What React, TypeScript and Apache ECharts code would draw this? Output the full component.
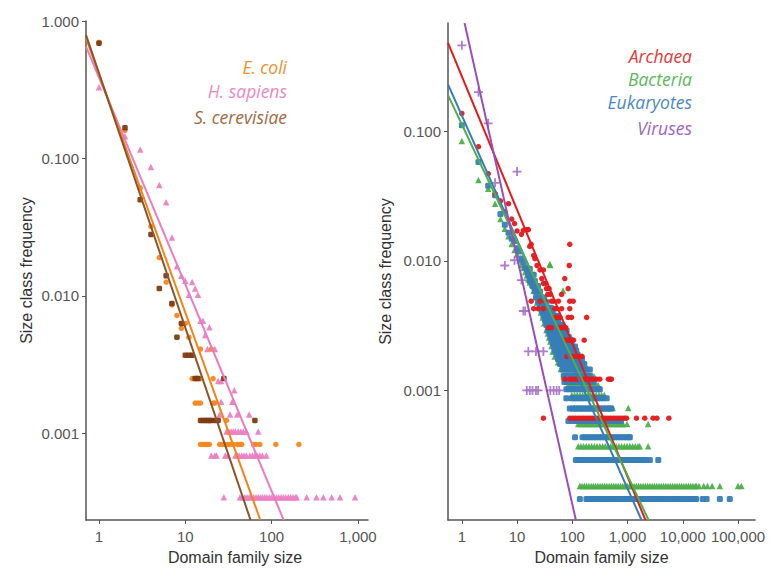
import React, { useEffect, useRef } from "react";
import * as echarts from "echarts";

// ---------- Tick labels ----------
const leftXTicks = [1, 10, 100, 1000];
const leftYTicks = [0.001, 0.01, 0.1, 1];
const rightXTicks = [1, 10, 100, 1000, 10000, 100000];
const rightYTicks = [0.001, 0.01, 0.1];

// ---------- Left panel: species ----------
const ecoliPoints: number[][] = [
  [1, 0.7], [2, 0.16], [3, 0.061], [4, 0.032], [5, 0.019], [6, 0.0126], [7, 0.0086], [8, 0.0072],
  [9, 0.0058], [10, 0.0063], [11, 0.005], [15, 0.0041], [20, 0.0041], [12, 0.0025], [13, 0.0025],
  [14, 0.0025], [15, 0.0025], [21, 0.0025], [13, 0.00166], [14, 0.00166], [15, 0.00166], [21, 0.00166],
  [22, 0.00166], [30, 0.00124],
];
const ecoliSingletons = [15, 16, 17, 18, 19, 25, 27, 29, 31, 33, 36, 40, 43, 45, 62, 66, 73, 112, 207];
const ecoliSingleFreq = 0.00083;

const scerPoints: number[][] = [
  [1, 0.69], [2, 0.167], [3, 0.05], [4, 0.028], [5, 0.0113], [6, 0.014], [7, 0.0088], [8, 0.005],
  [9, 0.0063], [10, 0.0037], [11, 0.0037], [12, 0.0037], [13, 0.0025], [14, 0.0025], [28, 0.0025],
];
const scerSingletons = [15, 16, 17, 18, 19, 20, 22, 24, 64];
const scerSingleFreq = 0.00124;

const hsapPoints: number[][] = [
  [1, 0.33], [2, 0.145], [3, 0.116], [4, 0.0865], [5, 0.064], [6, 0.048], [7, 0.0266], [8, 0.0164],
  [9, 0.014], [10, 0.0129], [11, 0.0102], [12, 0.0126], [13, 0.0113], [14, 0.0102], [15, 0.0066],
  [16, 0.0066], [17, 0.0052], [19, 0.0059], [18, 0.0041], [22, 0.0041], [24, 0.0024], [26, 0.0024],
  [37, 0.00206], [26, 0.0017], [35, 0.0017], [25, 0.00137], [33, 0.00137], [40, 0.00137], [55, 0.00137],
];
const hsapRows: [number, number[]][] = [
  [0.00103, [30, 32, 34, 36, 38, 41, 44, 47, 51, 70]],
  [0.00069, [20, 22, 23, 29, 31, 38, 40, 42, 45, 48, 51, 56, 60, 64, 68, 73, 78, 87]],
  [0.000343, [28, 43, 46, 49, 52, 55, 58, 62, 66, 70, 74, 78, 83, 88, 94, 100, 107, 114, 121, 129, 137, 146, 156, 166, 177, 188, 195, 255, 331, 397, 497, 620, 926]],
];

const ecoliFit = [[0.708, 0.75], [74, 0.000234]];
const scerFit = [[0.708, 0.79], [57, 0.000234]];
const hsapFit = [[0.708, 0.65], [138, 0.000234]];

// ---------- Right panel: domains of life ----------
const archaeaPoints: number[][] = [
  [1, 0.137], [2, 0.076], [3, 0.047], [4, 0.033], [5, 0.029], [6, 0.024], [7, 0.0276], [8, 0.021],
  [9, 0.0194], [10, 0.017], [12, 0.016], [13, 0.0172], [15, 0.0174], [16, 0.0174], [17, 0.0129],
  [20, 0.011], [21, 0.0104],
];
const archaeaRows: [number, number[]][] = [
  [0.0134, [18, 90]],
  [0.0092, [23, 88]],
  [0.0085, [26, 30]],
  [0.0073, [28, 73]],
  [0.0067, [30, 33]],
  [0.0061, [34, 38, 84]],
  [0.0055, [36, 40, 64]],
  [0.00488, [18, 26, 32, 42, 46, 56, 90, 104]],
  [0.00427, [20, 24, 30, 48, 52, 64, 90]],
  [0.00366, [50, 55, 60, 84, 97, 182]],
  [0.00305, [37, 42, 58, 64, 70, 76]],
  [0.00244, [70, 78, 86, 95, 105, 164]],
  [0.00183, [80, 92, 104, 118, 132, 150]],
  [0.00122, [73, 90, 100, 112, 125, 140, 157, 176, 197, 220, 247, 276, 315, 450, 480, 510]],
  [0.00061, [30, 90, 101, 113, 127, 142, 159, 178, 200, 224, 251, 281, 315, 353, 395, 443, 496, 556, 623, 698, 782, 876, 960, 1450, 2050, 2900, 3400, 5600]],
];

const bacteriaPoints: number[][] = [
  [1, 0.084], [2, 0.042], [3, 0.036], [4, 0.0276], [5, 0.021], [6, 0.0177], [7, 0.0155], [8, 0.0135],
  [9, 0.0121], [10, 0.0112], [11, 0.0101], [12, 0.0093], [13, 0.0088], [14, 0.0082], [15, 0.0077],
  [16, 0.0072], [17, 0.0068], [39, 0.0094], [40, 0.0093],
];
const bacteriaRows: [number, number[]][] = [
  [0.0073, [18, 20]],
  [0.0066, [19, 21, 23]],
  [0.0059, [20, 22, 25, 68]],
  [0.0053, [22, 24, 27]],
  [0.00476, [23, 26, 29, 32]],
  [0.0044, [25, 28, 31, 35]],
  [0.004, [27, 30, 33, 37, 41]],
  [0.00366, [29, 32, 36, 40, 45]],
  [0.0033, [31, 35, 39, 44, 49, 55]],
  [0.00293, [34, 38, 43, 48, 54, 60]],
  [0.00275, [36, 40, 45, 51, 57, 64]],
  [0.00256, [38, 42, 47, 53, 59, 66, 74]],
  [0.00238, [40, 45, 50, 56, 63, 70, 79]],
  [0.0022, [42, 47, 53, 60, 67, 75, 84, 94]],
  [0.002, [44, 48, 54, 61, 68, 76, 85, 95, 106]],
  [0.00183, [48, 55, 62, 69, 77, 86, 96, 108, 121, 135]],
  [0.00165, [55, 62, 70, 78, 87, 97, 109, 122, 136, 152]],
  [0.00146, [62, 70, 79, 88, 98, 110, 123, 137, 153, 171, 190]],
  [0.00128, [70, 79, 88, 99, 111, 124, 139, 155, 174, 195, 218, 250]],
  [0.0011, [85, 95, 106, 119, 133, 149, 167, 187, 209, 234, 262, 293]],
  [0.00092, [98, 110, 123, 138, 154, 173, 193, 216, 242, 271, 304, 340, 380]],
  [0.00073, [110, 124, 139, 155, 174, 195, 218, 244, 273, 306, 343, 384, 430, 482, 540, 1030]],
  [0.00055, [128, 143, 160, 179, 200, 224, 251, 281, 315, 353, 395, 443, 496, 556, 623, 698, 782, 830, 980, 2360]],
  [0.00037, [128, 143, 160, 179, 200, 224, 251, 281, 315, 353, 395, 443, 496, 556, 623, 698, 782, 876, 981, 1099, 1232, 1380, 1546, 1660, 2360]],
  [0.000183, [137, 150, 165, 181, 199, 219, 240, 264, 290, 319, 350, 385, 423, 465, 511, 561, 617, 678, 745, 819, 900, 989, 1087, 1195, 1313, 1443, 1586, 1743, 1916, 2106, 2314, 2543, 2795, 3072, 3376, 3710, 4077, 4481, 4925, 5412, 5948, 6537, 7184, 7895, 8677, 9536, 10480, 11517, 12657, 13910, 15287, 16800, 17700, 19600, 24000, 28000, 34000, 47000, 100000, 115000]],
];

const eukaryotesPoints: number[][] = [
  [1, 0.111], [2, 0.058], [3, 0.038], [4, 0.032], [5, 0.023], [6, 0.019], [7, 0.0165], [8, 0.0148],
  [9, 0.0142], [10, 0.0125], [11, 0.0118], [12, 0.0104], [13, 0.0098], [14, 0.0089], [15, 0.0086],
  [16, 0.0079], [17, 0.0074], [18, 0.0071], [19, 0.0066], [20, 0.0063], [21, 0.0061], [22, 0.0058],
];
const eukaryotesRows: [number, number[]][] = [
  [0.0087, [15, 17]],
  [0.0078, [16, 18, 20]],
  [0.007, [17, 19, 21]],
  [0.0064, [19, 21, 24]],
  [0.0058, [21, 23, 26]],
  [0.0052, [22, 25, 28, 31]],
  [0.0048, [24, 27, 30, 34]],
  [0.00435, [26, 29, 33, 37, 41]],
  [0.00406, [28, 31, 35, 39, 44]],
  [0.00377, [30, 33, 37, 42, 47, 52]],
  [0.00348, [32, 36, 40, 45, 50, 56]],
  [0.00319, [34, 38, 43, 48, 54, 60, 67]],
  [0.0029, [36, 41, 46, 51, 57, 63, 70, 79]],
  [0.00276, [39, 44, 49, 55, 61, 68, 76]],
  [0.0026, [40, 45, 50, 56, 62, 69, 77, 86]],
  [0.00247, [42, 47, 53, 59, 66, 73, 82, 92]],
  [0.00232, [44, 50, 56, 62, 69, 77, 86, 96]],
  [0.00218, [46, 52, 58, 65, 72, 80, 89, 99, 112]],
  [0.00203, [48, 54, 60, 67, 75, 84, 94, 105, 118]],
  [0.00189, [52, 58, 65, 72, 80, 90, 100, 112, 125]],
  [0.00174, [55, 62, 70, 78, 87, 97, 108, 120, 135, 150]],
  [0.0016, [60, 68, 76, 85, 95, 106, 118, 132, 148, 165]],
  [0.00145, [66, 75, 84, 94, 105, 116, 130, 145, 160, 180, 208]],
  [0.0013, [70, 80, 90, 100, 112, 125, 138, 152, 170, 190, 212]],
  [0.00116, [72, 82, 92, 103, 115, 128, 142, 158, 176, 196, 220, 245]],
  [0.00102, [78, 88, 99, 111, 124, 139, 155, 173, 193, 216, 241, 270, 300, 315]],
  [0.00087, [78, 97, 108, 121, 135, 151, 168, 188, 210, 234, 262, 292, 326, 364, 420]],
  [0.000725, [90, 101, 113, 126, 141, 157, 176, 196, 219, 245, 273, 305, 341, 380, 425, 475, 510]],
  [0.00058, [85, 100, 115, 130, 148, 168, 190, 215, 245, 278, 315, 358, 406, 460, 522, 592, 672, 760]],
  [0.000435, [112, 153, 172, 193, 216, 242, 271, 304, 341, 382, 428, 480, 538, 603, 676, 757, 849, 951, 1066, 1100]],
  [0.00029, [116, 128, 143, 160, 179, 200, 224, 251, 281, 315, 353, 395, 443, 496, 556, 623, 698, 782, 876, 981, 1099, 1232, 1380, 1546, 1732, 1940, 2200, 2540, 3600]],
  [0.000145, [137, 180, 198, 218, 240, 264, 290, 319, 351, 386, 425, 467, 514, 565, 622, 684, 752, 828, 910, 1001, 1101, 1212, 1333, 1466, 1613, 1774, 1951, 2146, 2361, 2597, 2857, 3142, 3457, 3802, 4182, 4600, 5060, 5566, 6123, 6735, 7409, 8150, 8965, 9861, 10848, 11932, 13126, 14438, 15882, 17470, 23000, 27000, 47000, 71000]],
];

const virusesPoints: number[][] = [
  [1, 0.46], [2, 0.2], [3, 0.115], [4, 0.04], [6, 0.0092], [9, 0.0101], [10, 0.0488], [12, 0.0071],
  [13, 0.0041], [14, 0.0041], [16, 0.002], [22, 0.002], [30, 0.002], [15, 0.001], [17, 0.001],
  [19, 0.001], [22, 0.001], [24, 0.001], [40, 0.001], [46, 0.001], [52, 0.001], [58, 0.001],
];

const archaeaFit = [[0.562, 0.48], [2110, 0.0001]];
const bacteriaFit = [[0.562, 0.19], [2400, 0.0001]];
const eukaryotesFit = [[0.562, 0.23], [1790, 0.0001]];
const virusesFit = [[1.12, 0.684], [116, 0.0001]];

const rowsToPoints = (rows: [number, number[]][]) =>
  rows.flatMap(([f, xs]) => xs.map((x) => [x, f]));
const singlesToPoints = (xs: number[], f: number) => xs.map((x) => [x, f]);

const PLUS = "path://M4,0H6V4H10V6H6V10H4V6H0V4H4Z";
const FONT = "'Liberation Sans', Arial, Helvetica, sans-serif";

export default function App() {
  const ref = useRef<HTMLDivElement>(null);
  useEffect(() => {
    if (!ref.current) return;
    const chart = echarts.init(ref.current, undefined, { renderer: "svg" });

    const axisCommon = {
      axisLine: { show: true, lineStyle: { color: "#555", width: 1.5 } },
      axisTick: { show: true, length: 4, lineStyle: { color: "#555", width: 1 } },
      splitLine: { show: false },
      nameLocation: "middle" as const,
      nameTextStyle: { color: "#333", fontSize: 16, fontFamily: FONT },
    };
    const labelCommon = { color: "#555", fontSize: 15, fontFamily: FONT };
    const xFmt = (v: number) => Math.round(v).toLocaleString("en-US");
    const yFmt = (v: number) => v.toFixed(3);

    const xAxisL = {
      ...axisCommon,
      type: "log" as const,
      gridIndex: 0,
      min: 0.707,
      max: 1309,
      name: "Domain family size",
      nameGap: 29,
      nameTextStyle: { ...axisCommon.nameTextStyle, padding: [0, 0, 0, 16] },
      axisTick: { ...axisCommon.axisTick, customValues: leftXTicks },
      axisLabel: { ...labelCommon, customValues: leftXTicks, formatter: xFmt, margin: 9 },
    };
    const yAxisL = {
      ...axisCommon,
      type: "log" as const,
      gridIndex: 0,
      min: 0.000234,
      max: 1,
      name: "Size class frequency",
      nameGap: 52,
      axisTick: { ...axisCommon.axisTick, customValues: leftYTicks },
      axisLabel: { ...labelCommon, customValues: leftYTicks, formatter: yFmt, margin: 7 },
    };
    const xAxisR = {
      ...axisCommon,
      type: "log" as const,
      gridIndex: 1,
      min: 0.562,
      max: 203000,
      name: "Domain family size",
      nameGap: 29,
      axisTick: { ...axisCommon.axisTick, customValues: rightXTicks },
      axisLabel: { ...labelCommon, customValues: rightXTicks, formatter: xFmt, margin: 9 },
    };
    const yAxisR = {
      ...axisCommon,
      type: "log" as const,
      gridIndex: 1,
      min: 0.0001,
      max: 0.684,
      name: "Size class frequency",
      nameGap: 55,
      axisTick: { ...axisCommon.axisTick, customValues: rightYTicks },
      axisLabel: { ...labelCommon, customValues: rightYTicks, formatter: yFmt, margin: 7 },
    };

    const scatter = (data: number[][], idx: number, color: string, symbol: string, size: number, z = 2) => ({
      type: "scatter",
      xAxisIndex: idx,
      yAxisIndex: idx,
      data,
      symbol,
      symbolSize: size,
      itemStyle: { color, opacity: 0.95 },
      z,
      silent: true,
    });
    const fit = (data: number[][], idx: number, color: string, z = 5) => ({
      type: "line",
      xAxisIndex: idx,
      yAxisIndex: idx,
      data,
      showSymbol: false,
      symbol: "none",
      lineStyle: { color, width: 2 },
      z,
      silent: true,
    });

    const legendText = (text: string, x: number, y: number, fill: string) => ({
      type: "text",
      x,
      y,
      style: {
        text,
        fill,
        font: "italic 17.5px 'Open Sans', 'DejaVu Sans', sans-serif",
        textAlign: "right",
        textVerticalAlign: "middle",
        align: "right",
        verticalAlign: "middle",
      },
      silent: true,
    });

    chart.setOption({
      animation: false,
      backgroundColor: "#fff",
      grid: [
        { left: 86, top: 21, width: 282, height: 501 },
        { left: 448, top: 23, width: 307, height: 500.5 },
      ],
      xAxis: [xAxisL, xAxisR],
      yAxis: [yAxisL, yAxisR],
      series: [
        scatter(hsapPoints.concat(rowsToPoints(hsapRows)), 0, "#ec7fc3", "triangle", 6.5),
        scatter(ecoliPoints.concat(singlesToPoints(ecoliSingletons, ecoliSingleFreq)), 0, "#f5871f", "circle", 5.5),
        scatter(scerPoints.concat(singlesToPoints(scerSingletons, scerSingleFreq)), 0, "#7d3c12", "roundRect", 5.5),
        fit(hsapFit, 0, "#ea7cc0"),
        fit(ecoliFit, 0, "#f2841a"),
        fit(scerFit, 0, "#8e5428"),

        scatter(bacteriaPoints.concat(rowsToPoints(bacteriaRows)), 1, "#4daf4a", "triangle", 6.5),
        scatter(eukaryotesPoints.concat(rowsToPoints(eukaryotesRows)), 1, "#377eb8", "roundRect", 6),
        scatter(archaeaPoints.concat(rowsToPoints(archaeaRows)), 1, "#e41a1c", "circle", 5.5),
        scatter(virusesPoints, 1, "#aa78c8", PLUS, 9),
        fit(archaeaFit, 1, "#e41a1c"),
        fit(eukaryotesFit, 1, "#377eb8"),
        fit(bacteriaFit, 1, "#4daf4a"),
        fit(virusesFit, 1, "#9b4fb5"),
      ],
      graphic: [
        legendText("E. coli", 287, 67, "#f28f2e"),
        legendText("H. sapiens", 287, 91, "#e98ac6"),
        legendText("S. cerevisiae", 287, 117, "#a06a44"),
        legendText("Archaea", 692, 56, "#e33a3a"),
        legendText("Bacteria", 692, 79, "#5cb85a"),
        legendText("Eukaryotes", 692, 102, "#4a89c4"),
        legendText("Viruses", 692, 128, "#a064bd"),
      ],
    });
    return () => chart.dispose();
  }, []);

  return (
    <div
      ref={ref}
      style={{ position: "absolute", left: 0, top: 0, width: 771, height: 570, background: "#fff" }}
    />
  );
}
